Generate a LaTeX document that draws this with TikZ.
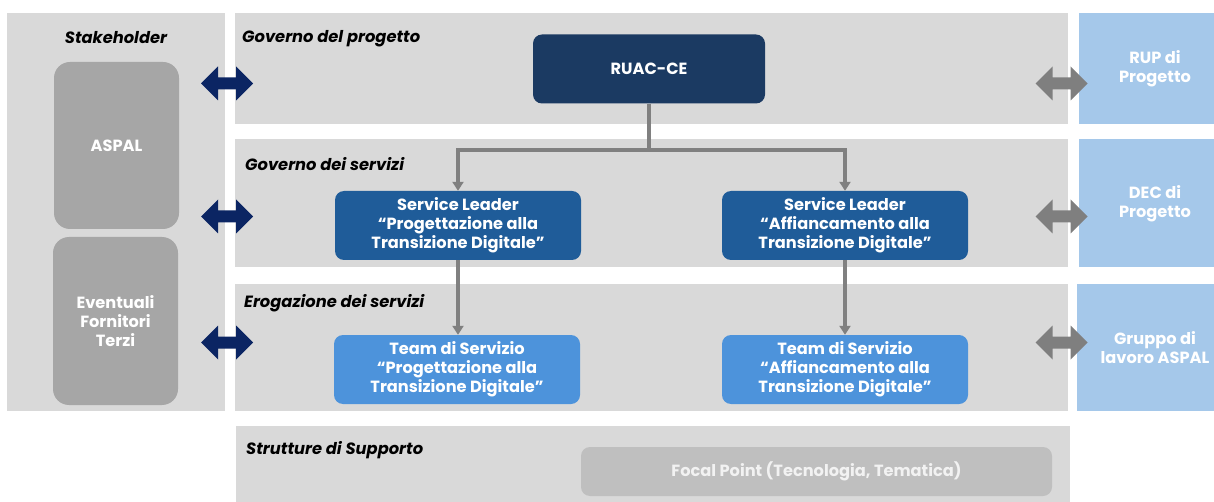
\documentclass[tikz,border=0pt]{standalone}
\usepackage{fontspec}
\setmainfont{Poppins}
\usetikzlibrary{arrows.meta}

\definecolor{panelgray}{HTML}{D9D9D9}
\definecolor{stakegray}{HTML}{A6A6A6}
\definecolor{sideblue}{HTML}{A5C8EA}
\definecolor{navyarrow}{HTML}{0B2563}
\definecolor{grayarrow}{HTML}{7F7F7F}
\definecolor{ruacblue}{HTML}{1B3A62}
\definecolor{leaderblue}{HTML}{1F5C99}
\definecolor{teamblue}{HTML}{4D93DB}
\definecolor{focalgray}{HTML}{BFBFBF}
\definecolor{linkgray}{HTML}{808080}

\tikzset{
  panel/.style={fill=panelgray, draw=none},
  sidepanel/.style={fill=sideblue, draw=none},
  seclabel/.style={font=\fontsize{16.3}{19}\selectfont\bfseries\itshape, text=black, inner sep=0pt},
  whitetext/.style={text=white, font=\fontsize{16.2}{19}\selectfont\bfseries, align=center, inner sep=0pt},
  stakebox/.style={fill=stakegray, rounded corners=16pt, draw=none},
  orgbox/.style={whitetext, rounded corners=9pt, minimum width=246pt, minimum height=69pt},
  link/.style={draw=linkgray, line width=3.2pt},
  linkarrow/.style={link, -{Triangle[width=11pt,length=9pt]}},
  dblarrow/.pic={
    \fill (-26,0) -- (-9,-17) -- (-9,-6) -- (9,-6) -- (9,-17) -- (26,0)
          -- (9,17) -- (9,6) -- (-9,6) -- (-9,17) -- cycle;
  }
}

\begin{document}
\begin{tikzpicture}[x=1pt, y=-1pt]
\useasboundingbox (0,0) rectangle (1214,502);

% background panels
\fill[panel] (7,13) rectangle (225,411);
\fill[panel] (235,13) rectangle (1068,124);
\fill[panel] (235,139) rectangle (1068,267);
\fill[panel] (235,284) rectangle (1068,411);
\fill[panel] (236,426) rectangle (1070,502);

% right-hand side panels
\fill[sidepanel] (1079,13) rectangle (1214,124);
\fill[sidepanel] (1079,139) rectangle (1214,267);
\fill[sidepanel] (1077,284) rectangle (1214,411);

\node[whitetext] (rup) at (1155,68.5) {RUP di\\Progetto};
\node[whitetext] (dec) at (1155,203.5) {DEC di\\Progetto};
\node[whitetext] (gruppo) at (1155,348) {Gruppo di\\lavoro ASPAL};

% section titles
\node[seclabel] (lstake) at (116,38) {Stakeholder};
\node[seclabel, anchor=west] (lgovp) at (242,39) {Governo del progetto};
\node[seclabel, anchor=west] (lgovs) at (245,164.5) {Governo dei servizi};
\node[seclabel, anchor=west] (lerog) at (244,303.5) {Erogazione dei servizi};
\node[seclabel, anchor=west] (lsupp) at (246,450.5) {Strutture di Supporto};

% stakeholders
\fill[stakebox] (54,62) rectangle (179,229);
\node[whitetext] (aspal) at (116.5,145.5) {ASPAL};
\fill[stakebox] (53,237) rectangle (178,405);
\node[whitetext] (terzi) at (115.5,321) {Eventuali\\Fornitori\\Terzi};

% organisation boxes
\node[orgbox, fill=ruacblue, minimum width=232pt, minimum height=69pt] (ruac) at (649,69) {RUAC-CE};
\node[orgbox, fill=leaderblue] (slp) at (458,225.5) {Service Leader\\“Progettazione alla\\Transizione Digitale”};
\node[orgbox, fill=leaderblue] (sla) at (845,225.5) {Service Leader\\“Affiancamento alla\\Transizione Digitale”};
\node[orgbox, fill=teamblue] (tsp) at (457,369.5) {Team di Servizio\\“Progettazione alla\\Transizione Digitale”};
\node[orgbox, fill=teamblue] (tsa) at (845,369.5) {Team di Servizio\\“Affiancamento alla\\Transizione Digitale”};

\node[whitetext, text=white!95!black, fill=focalgray, rounded corners=9pt,
      minimum width=471pt, minimum height=49pt] (focal) at (816.5,471.5)
      {Focal Point (Tecnologia, Tematica)};

% reporting lines
\coordinate (split) at (649,150);
\draw[link] (ruac.south) -- (split);
\draw[linkarrow] (split) -| (slp.north);
\draw[linkarrow] (split) -| (sla.north);
\draw[linkarrow] (slp.south) -- (slp.south |- tsp.north);
\draw[linkarrow] (sla.south) -- (tsa.north);

% exchange arrows
\foreach \yy in {83.5,216.5,342.5}{
  \pic[fill=navyarrow] at (227,\yy) {dblarrow};
  \pic[fill=grayarrow] at (1061.5,\yy) {dblarrow};
}
\end{tikzpicture}
\end{document}
